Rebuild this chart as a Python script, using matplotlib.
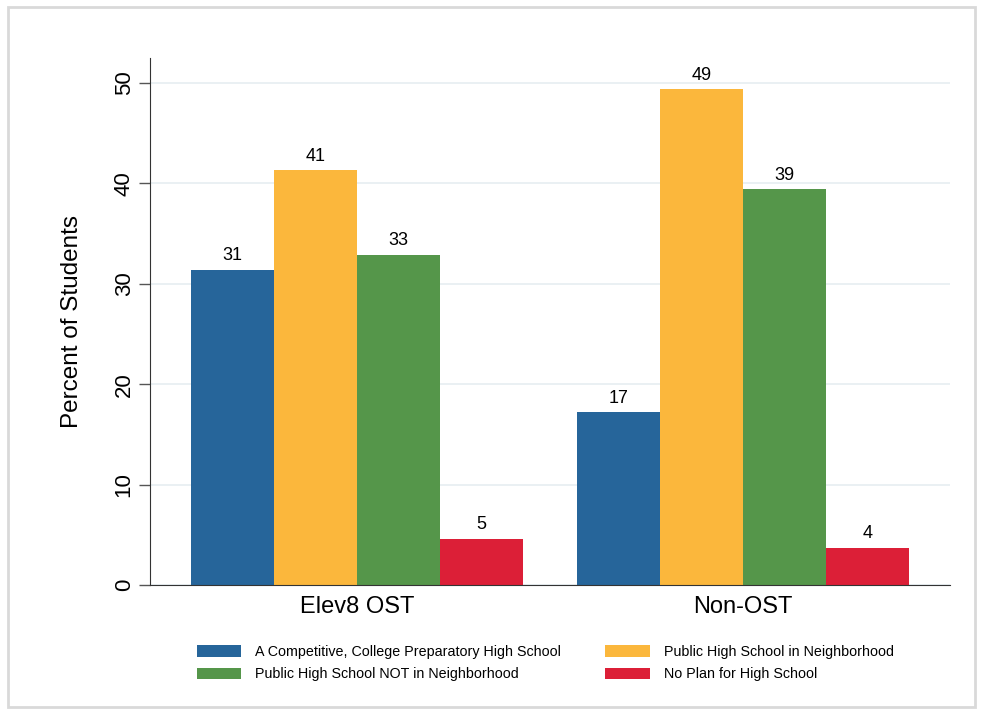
import numpy as np
import matplotlib.pyplot as plt
from matplotlib.patches import Rectangle

plt.rcParams['font.family'] = ['Liberation Sans', 'DejaVu Sans']

groups = ['Elev8 OST', 'Non-OST']
series = ['A Competitive, College Preparatory High School',
          'Public High School NOT in Neighborhood',
          'Public High School in Neighborhood',
          'No Plan for High School']
# values per group, in bar order: competitive, public in nbhd, public not in nbhd, no plan
competitive = [31.4, 17.2]
public_in = [41.3, 49.4]
public_not = [32.9, 39.4]
no_plan = [4.6, 3.7]

colors = {'competitive': '#26659a', 'public_in': '#fbb73c',
          'public_not': '#55964a', 'no_plan': '#dc1f37'}

fig = plt.figure(figsize=(9.82, 7.14), dpi=100)
fig.patches.append(Rectangle((0.008, 0.01), 0.985, 0.98, transform=fig.transFigure,
                             fill=False, edgecolor='#d9d9d9', linewidth=2))
ax = fig.add_axes([0.1527, 0.1807, 0.8147, 0.7381])

group_x = np.array([0, 4.65])
bars = {}
for i, (key, vals) in enumerate([('competitive', competitive), ('public_in', public_in),
                                 ('public_not', public_not), ('no_plan', no_plan)]):
    bars[key] = ax.bar(group_x + i, vals, width=1.0, color=colors[key], linewidth=0, zorder=2)
    for x, v in zip(group_x + i, vals):
        ax.annotate(f'{v:.0f}', (x, v), xytext=(0, 4), textcoords='offset points',
                    ha='center', va='bottom', fontsize=13)

ax.set_xlim(-0.99, 8.64)
ax.set_ylim(0, 52.5)
ax.set_yticks([0, 10, 20, 30, 40, 50])
ax.tick_params(axis='y', labelsize=16, length=8, width=1, color='#555555',
               labelrotation=90, pad=3)
for lab in ax.get_yticklabels():
    lab.set_va('center')
ax.set_xticks(group_x + 1.5)
ax.set_xticklabels(groups, fontsize=17)
ax.tick_params(axis='x', length=0, pad=8)
ax.yaxis.grid(True, color='#e6edf1', linewidth=1.2, zorder=0)
ax.set_axisbelow(True)
ax.spines['top'].set_visible(False)
ax.spines['right'].set_visible(False)
ax.spines['left'].set_color('#333333')
ax.spines['bottom'].set_color('#333333')
ax.set_ylabel('Percent of Students', fontsize=17.5, labelpad=22)

handles = [bars['competitive'], bars['public_not'], bars['public_in'], bars['no_plan']]
fig.legend(handles, series, ncol=2, frameon=False, fontsize=10.3,
           loc='upper left', bbox_to_anchor=(0.187, 0.115),
           handlelength=3.1, handleheight=0.85, handletextpad=1.0,
           columnspacing=3.1, labelspacing=0.6)

fig.savefig('out.png', dpi=100)
